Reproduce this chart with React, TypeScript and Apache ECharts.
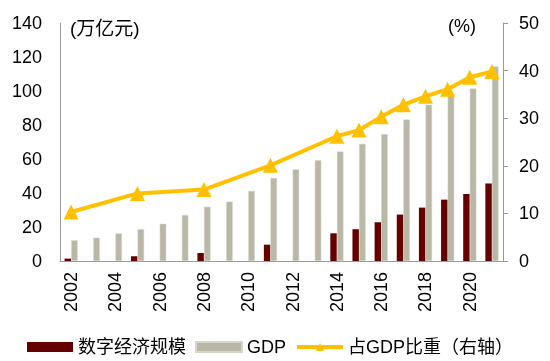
import React, { useEffect, useRef } from "react";
import * as echarts from "echarts";

const years = ["2002","2003","2004","2005","2006","2007","2008","2009","2010","2011","2012","2013","2014","2015","2016","2017","2018","2019","2020","2021"];
const digital = [1.4, null, null, 2.8, null, null, 4.7, null, null, 9.6, null, null, 16.3, 18.7, 22.8, 27.3, 31.4, 36.1, 39.4, 45.6];
const gdp = [12.2, 13.7, 16.2, 18.7, 21.9, 27.0, 31.9, 34.9, 41.2, 48.8, 53.9, 59.3, 64.4, 68.9, 74.6, 83.2, 91.9, 98.7, 101.4, 114.4];
const share = [10.3, null, null, 14.2, null, null, 15.0, null, null, 20.1, null, null, 26.2, 27.5, 30.3, 32.8, 34.6, 36.1, 38.6, 39.8];
const seriesNames = ["数字经济规模", "GDP", "占GDP比重（右轴）"];

const FONT = "'Liberation Sans', Arial, 'Noto Sans CJK SC', sans-serif";

export default function App() {
  const ref = useRef<HTMLDivElement>(null);
  useEffect(() => {
    if (!ref.current) return;
    const chart = echarts.init(ref.current, null, { renderer: "svg" });
    chart.setOption({
      animation: false,
      textStyle: { fontFamily: FONT, color: "#000" },
      grid: { left: 60, right: 47, top: 23, bottom: 100 },
      legend: {
        left: 22,
        top: 333,
        itemWidth: 46,
        itemHeight: 10,
        itemGap: 9,
        textStyle: { fontSize: 18, color: "#000", fontFamily: FONT },
        data: [
          { name: seriesNames[0], icon: "rect" },
          { name: seriesNames[1], icon: "rect" },
          { name: seriesNames[2], lineStyle: { width: 4 }, itemStyle: { color: "#ffc000" } },
        ],
      },
      graphic: [
        { type: "text", left: 70, top: 19, style: { text: "(万亿元)", fontSize: 19, fill: "#000", fontFamily: FONT } },
        { type: "text", left: 448, top: 17, style: { text: "(%)", fontSize: 18, fill: "#000", fontFamily: FONT } },
      ],
      xAxis: {
        type: "category",
        data: years,
        boundaryGap: true,
        axisLine: { lineStyle: { color: "#999" } },
        axisTick: { interval: 1, length: 6, lineStyle: { color: "#999" } },
        axisLabel: { interval: 1, rotate: 90, fontSize: 18, color: "#000", margin: 11, fontFamily: FONT },
      },
      yAxis: [
        {
          type: "value",
          min: 0,
          max: 140,
          interval: 20,
          axisLine: { show: true, lineStyle: { color: "#999" } },
          axisTick: { show: false },
          splitLine: { show: false },
          axisLabel: { fontSize: 18, color: "#000", margin: 18, fontFamily: FONT },
        },
        {
          type: "value",
          min: 0,
          max: 50,
          interval: 10,
          position: "right",
          axisLine: { show: true, lineStyle: { color: "#999" } },
          axisTick: { show: true, length: 5, lineStyle: { color: "#999" } },
          splitLine: { show: false },
          axisLabel: { fontSize: 18, color: "#000", margin: 16, fontFamily: FONT },
        },
      ],
      series: [
        {
          name: seriesNames[0],
          type: "bar",
          data: digital,
          barWidth: 6.5,
          barGap: "2%",
          itemStyle: { color: "#660000" },
        },
        {
          name: seriesNames[1],
          type: "bar",
          data: gdp,
          barWidth: 6.5,
          itemStyle: { color: "#b9b8a7", borderColor: "#d6d5ca", borderWidth: 0.5 },
        },
        {
          name: seriesNames[2],
          type: "line",
          yAxisIndex: 1,
          data: share,
          connectNulls: true,
          showAllSymbol: true,
          symbol: "triangle",
          symbolSize: 15,
          lineStyle: { color: "#ffc000", width: 4 },
          itemStyle: { color: "#ffc000" },
        },
      ],
    });
    return () => chart.dispose();
  }, []);
  return <div ref={ref} style={{ position: "fixed", left: 0, top: 0, width: 550, height: 361 }} />;
}
